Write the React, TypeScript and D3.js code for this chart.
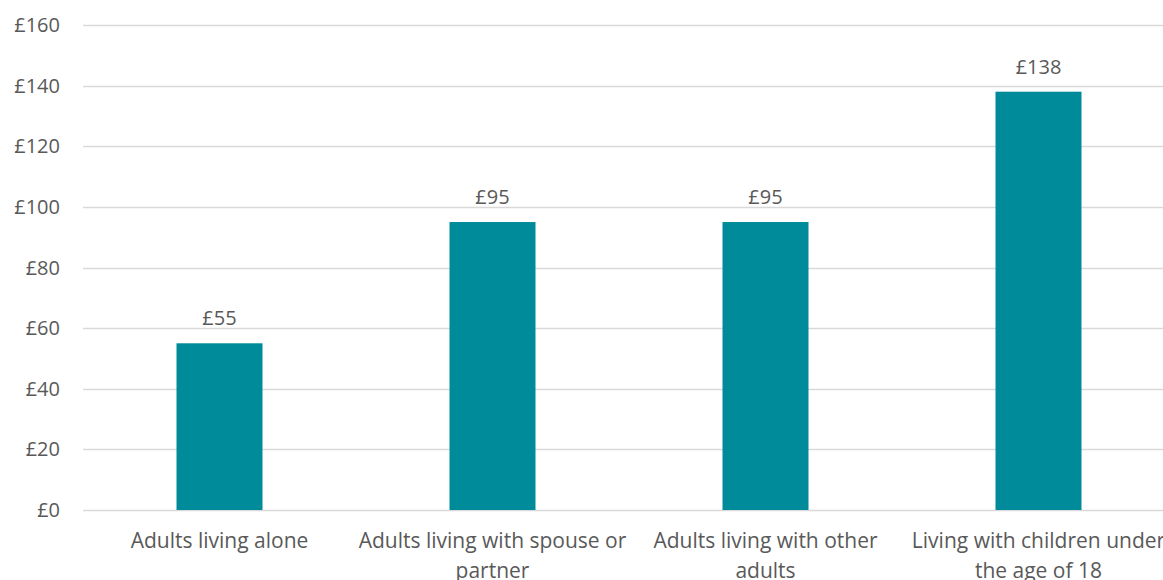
import React, { useEffect, useRef } from "react";
import * as d3 from "d3";

const categories = [
  "Adults living alone",
  "Adults living with spouse or partner",
  "Adults living with other adults",
  "Living with children under the age of 18",
];
const values = [55, 95, 95, 138];
const yTicks = [0, 20, 40, 60, 80, 100, 120, 140, 160];

const W = 1163;
const H = 580;
const FONT = "'Open Sans', sans-serif";
const TEXT = "#595959";

export default function App() {
  const ref = useRef<SVGSVGElement>(null);

  useEffect(() => {
    const svg = d3.select(ref.current);
    svg.selectAll("*").remove();

    const left = 83;
    const right = 1175;
    const top = 25;
    const bottom = 510;

    const x = d3.scaleBand<string>().domain(categories).range([left, right]).paddingInner(0.685).paddingOuter(0.3425);
    const y = d3.scaleLinear().domain([0, 160]).range([bottom, top]);

    const g = svg.append("g");

    g.selectAll("line.grid")
      .data(yTicks)
      .join("line")
      .attr("x1", left)
      .attr("x2", right)
      .attr("y1", (d) => Math.round(y(d)) + 0.5)
      .attr("y2", (d) => Math.round(y(d)) + 0.5)
      .attr("stroke", "#d9d9d9")
      .attr("stroke-width", 1.3);

    g.selectAll("text.ytick")
      .data(yTicks)
      .join("text")
      .attr("x", 60)
      .attr("y", (d) => y(d))
      .attr("dy", "0.35em")
      .attr("text-anchor", "end")
      .attr("fill", TEXT)
      .attr("font-family", FONT)
      .attr("font-size", 20)
      .text((d) => `£${d}`);

    g.selectAll("rect.bar")
      .data(values)
      .join("rect")
      .attr("x", (_, i) => x(categories[i])!)
      .attr("width", x.bandwidth())
      .attr("y", (d) => y(d))
      .attr("height", (d) => y(0) - y(d))
      .attr("fill", "#008B9A");

    g.selectAll("text.val")
      .data(values)
      .join("text")
      .attr("x", (_, i) => x(categories[i])! + x.bandwidth() / 2)
      .attr("y", (d) => y(d) - 18)
      .attr("text-anchor", "middle")
      .attr("fill", TEXT)
      .attr("font-family", FONT)
      .attr("font-size", 20)
      .text((d) => `£${d}`);

    const maxW = 272;
    categories.forEach((c) => {
      const cx = x(c)! + x.bandwidth() / 2;
      const t = g
        .append("text")
        .attr("text-anchor", "middle")
        .attr("fill", TEXT)
        .attr("font-family", FONT)
        .attr("font-size", 21);
      const words = c.split(" ");
      const lines: string[] = [];
      let cur = "";
      const probe = t.append("tspan");
      for (const w of words) {
        const test = cur ? cur + " " + w : w;
        probe.text(test);
        if ((probe.node() as SVGTSpanElement).getComputedTextLength() > maxW && cur) {
          lines.push(cur);
          cur = w;
        } else cur = test;
      }
      lines.push(cur);
      probe.remove();
      lines.forEach((l, i) => {
        t.append("tspan").attr("x", cx).attr("y", 548 + i * 30).text(l);
      });
    });
  }, []);

  return <svg ref={ref} width={W} height={H} style={{ position: "absolute", left: 0, top: 0, background: "#fff" }} />;
}
